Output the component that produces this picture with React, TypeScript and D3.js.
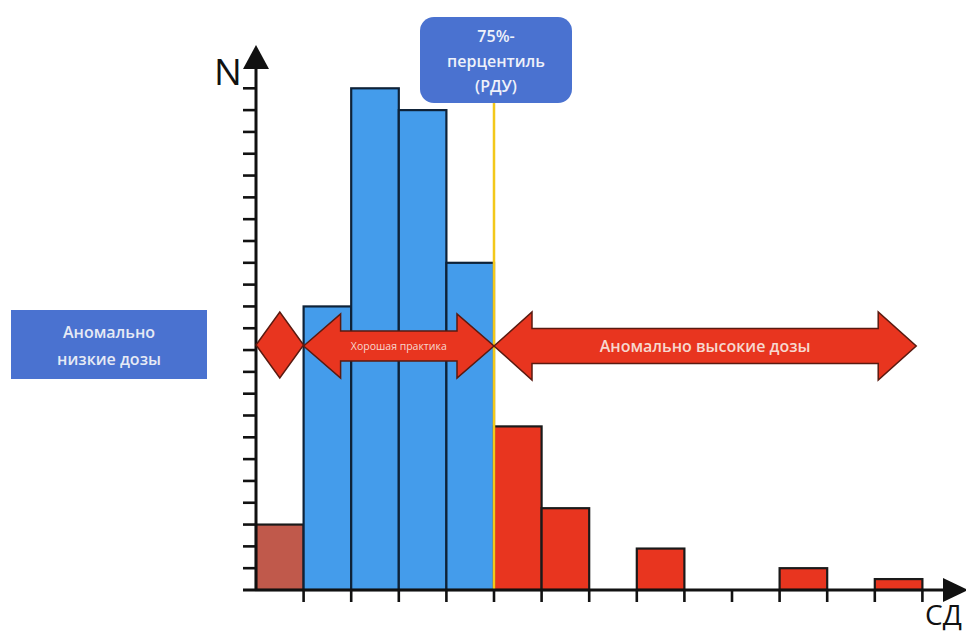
import React from "react";
import * as d3 from "d3";

const binLabels = ["b1","b2","b3","b4","b5","b6","b7","b8","b9","b10","b11","b12","b13","b14"];
const binCounts = [3, 13, 23, 22, 15, 7.5, 3.75, 0, 1.9, 0, 0, 1, 0, 0.5];
const binGroups = ["low","good","good","good","good","high","high","high","high","high","high","high","high","high"];
const yTicks = d3.range(0, 24);
const xTicks = d3.range(1, 15);
const percentileLines = ["75%-", "перцентиль", "(РДУ)"];
const lowLines = ["Аномально", "низкие дозы"];
const goodLabel = "Хорошая практика";
const highLabel = "Аномально высокие дозы";
const percentileBin = 5;
const highArrowEnd = 13.87;

const W = 966, H = 635;
const FONT = "'Open Sans', 'Noto Sans', sans-serif";

const fills: Record<string, string> = { low: "#c0594b", good: "#449ceb", high: "#e8351f" };
const strokes: Record<string, string> = { low: "#1a1a1a", good: "#0e2238", high: "#1a1a1a" };

function dblArrow(x0: number, x1: number, cy: number, headLen: number, headH: number, shaftH: number) {
  const p = d3.path();
  p.moveTo(x0, cy);
  p.lineTo(x0 + headLen, cy - headH / 2);
  p.lineTo(x0 + headLen, cy - shaftH / 2);
  p.lineTo(x1 - headLen, cy - shaftH / 2);
  p.lineTo(x1 - headLen, cy - headH / 2);
  p.lineTo(x1, cy);
  p.lineTo(x1 - headLen, cy + headH / 2);
  p.lineTo(x1 - headLen, cy + shaftH / 2);
  p.lineTo(x0 + headLen, cy + shaftH / 2);
  p.lineTo(x0 + headLen, cy + headH / 2);
  p.closePath();
  return p.toString();
}

export default function App() {
  const x = d3.scaleLinear().domain([0, 14]).range([256, 922.4]);
  const y = d3.scaleLinear().domain([0, 23]).range([590, 88.3]);
  const x0 = x(0), y0 = y(0);
  const cy = 345;

  const diamond = d3.path();
  diamond.moveTo(x(0), cy);
  diamond.lineTo((x(0) + x(1)) / 2, cy - 33);
  diamond.lineTo(x(1), cy);
  diamond.lineTo((x(0) + x(1)) / 2, cy + 33);
  diamond.closePath();

  return (
    <svg width={W} height={H} style={{ position: "absolute", left: 0, top: 0, background: "#fff" }}>
      {/* bars */}
      {binCounts.map((v, i) =>
        v > 0 ? (
          <rect key={binLabels[i]} x={x(i)} y={y(v)} width={x(i + 1) - x(i)} height={y0 - y(v)}
            fill={fills[binGroups[i]]} stroke={strokes[binGroups[i]]} strokeWidth={2.2} />
        ) : null
      )}
      {/* percentile line */}
      <line x1={x(percentileBin)} x2={x(percentileBin)} y1={100} y2={y0} stroke="#f3c81a" strokeWidth={2.5} />
      {/* axes */}
      <line x1={x0} x2={x0} y1={y0} y2={66} stroke="#111" strokeWidth={3} />
      <path d={`M${x0 - 13},${69} L${x0},${45} L${x0 + 13},${69} Z`} fill="#111" />
      <line x1={243} x2={945} y1={y0} y2={y0} stroke="#111" strokeWidth={3} />
      <path d={`M${943},${y0 - 12} L${968},${y0} L${943},${y0 + 12} Z`} fill="#111" />
      {yTicks.slice(1).map(t => (
        <line key={"yt" + t} x1={243} x2={x0} y1={y(t)} y2={y(t)} stroke="#111" strokeWidth={2.6} />
      ))}
      {xTicks.map(t => (
        <line key={"xt" + t} x1={x(t)} x2={x(t)} y1={y0} y2={y0 + 12} stroke="#111" strokeWidth={2.6} />
      ))}
      <text x={228} y={85} fontFamily={FONT} fontSize={37} fill="#111" textAnchor="middle">N</text>
      <text x={925} y={625} fontFamily={FONT} fontSize={28} fill="#111" textAnchor="start">СД</text>
      {/* arrows */}
      <path d={diamond.toString()} fill="#e8351f" stroke="#5a1a10" strokeWidth={1.5} />
      <path d={dblArrow(x(1), x(5), cy + 1, 37, 64, 30)} fill="#e8351f" stroke="#5a1a10" strokeWidth={1.5} />
      <text x={(x(1) + x(5)) / 2} y={cy + 1} dy="0.35em" fontFamily={FONT} fontSize={10.5} fill="#f7d8cf" textAnchor="middle">{goodLabel}</text>
      <path d={dblArrow(x(5), x(highArrowEnd), cy + 1, 38, 68, 35)} fill="#e8351f" stroke="#5a1a10" strokeWidth={1.5} />
      <text x={(x(5) + x(highArrowEnd)) / 2} y={cy + 1} dy="0.35em" fontFamily={FONT} fontSize={16} fontWeight={600} fill="#f7d8cf" textAnchor="middle">{highLabel}</text>
      {/* label boxes */}
      <rect x={420} y={17} width={152} height={86} rx={14} fill="#4a72d0" />
      {percentileLines.map((s, i) => (
        <text key={s} x={496} y={36 + i * 25} dy="0.35em" fontFamily={FONT} fontSize={16} fontWeight={600} fill="#eef1fa" textAnchor="middle">{s}</text>
      ))}
      <rect x={11} y={310} width={196} height={69} fill="#4a72d0" />
      {lowLines.map((s, i) => (
        <text key={s} x={109} y={332 + i * 27} dy="0.35em" fontFamily={FONT} fontSize={16} fontWeight={600} fill="#e6eaf5" textAnchor="middle">{s}</text>
      ))}
    </svg>
  );
}
